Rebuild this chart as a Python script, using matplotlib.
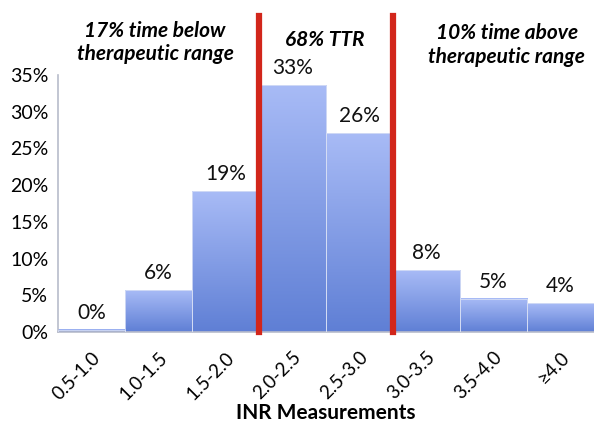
import numpy as np
import matplotlib
matplotlib.use("Agg")
from matplotlib import pyplot as plt
from matplotlib.colors import LinearSegmentedColormap

# INR histogram data
categories = ["0.5-1.0", "1.0-1.5", "1.5-2.0", "2.0-2.5", "2.5-3.0", "3.0-3.5", "3.5-4.0", "\u22654.0"]
heights = [0.3, 5.7, 19.2, 33.6, 27.1, 8.4, 4.5, 3.9]
bar_labels = ["0%", "6%", "19%", "33%", "26%", "8%", "5%", "4%"]
y_ticks = [0, 5, 10, 15, 20, 25, 30, 35]
range_edges = [2.5, 4.5]
range_notes = ["17% time below\ntherapeutic range", "68% TTR", "10% time above\ntherapeutic range"]

plt.rcParams['font.family'] = ['Lato', 'DejaVu Sans']

fig = plt.figure(figsize=(5.94, 4.22), dpi=100)
ax = fig.add_axes([0.0976, 0.2133, 0.9024, 0.609])

x = np.arange(len(categories))
bars = ax.bar(x, heights, width=1.0, facecolor="none", edgecolor="#d6def5", linewidth=0.6, zorder=3)

# vertical gradient inside each bar
cmap = LinearSegmentedColormap.from_list("bargrad", ["#5f7fd5", "#a8bbf6"])
grad = np.linspace(0, 1, 256).reshape(-1, 1)
for b in bars:
    x0 = b.get_x()
    w = b.get_width()
    h = b.get_height()
    ax.imshow(grad, cmap=cmap, aspect="auto", origin="lower",
              extent=(x0, x0 + w, 0, h), zorder=2)

for xi, h, lab in zip(x, heights, bar_labels):
    ax.annotate(lab, (xi, h), xytext=(0, 5), textcoords="offset points",
                ha="center", va="bottom", fontsize=15, color="#111111")

ax.set_xlim(-0.5, len(categories) - 0.5)
ax.set_ylim(0, 35)
ax.set_yticks(y_ticks)
ax.set_yticklabels([f"{t}%" for t in y_ticks], fontsize=14)
ax.set_xticks(x)
ax.set_xticklabels(categories, rotation=45, ha="right", rotation_mode="anchor", fontsize=13.5)
ax.tick_params(axis="both", length=0)
ax.tick_params(axis="y", pad=7)
ax.tick_params(axis="x", pad=12)

for s in ["top", "right"]:
    ax.spines[s].set_visible(False)
for s in ["left", "bottom"]:
    ax.spines[s].set_color("#b8bccb")
    ax.spines[s].set_linewidth(1.2)

for e in range_edges:
    ax.axvline(e, ymin=0, ymax=1.23, color="#d2261b", linewidth=4.5, clip_on=False, zorder=5)

note_x = [0.95, 3.48, 6.2]
note_y = [1.125, 1.136, 1.117]
for nx, ny, txt in zip(note_x, note_y, range_notes):
    ax.text(nx, ny, txt, transform=ax.get_xaxis_transform(), ha="center", va="center",
            fontsize=15, fontweight="bold", fontstyle="italic", linespacing=1.2)

ax.set_xlabel("INR Measurements", fontsize=15, fontweight="bold", labelpad=0)

fig.savefig("out.png", dpi=100)
